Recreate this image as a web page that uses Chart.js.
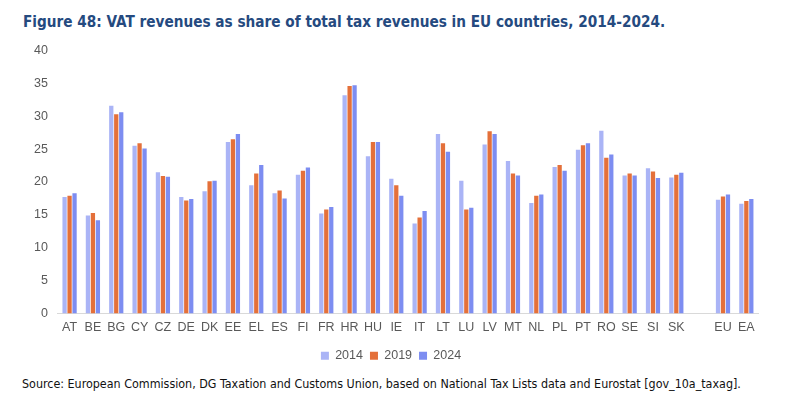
<!DOCTYPE html>
<html>
<head>
<meta charset="utf-8">
<script src="https://cdn.jsdelivr.net/npm/chart.js@4.4.1/dist/chart.umd.min.js"></script>
<style>
  body { margin: 0; background: #fff; width: 800px; height: 408px; overflow: hidden; position: relative; }
  #title { position: absolute; left: 23px; top: 13px; font-family: "DejaVu Sans Condensed", "Liberation Sans Narrow", sans-serif; font-weight: bold; font-size: 15.2px; color: #254A7F; white-space: nowrap; }
  #source { position: absolute; left: 22px; top: 376px; font-family: "DejaVu Sans Condensed", "Liberation Sans Narrow", sans-serif; font-size: 12.4px; color: #111; white-space: nowrap; }
  #wrap { position: absolute; left: 0; top: 33px; width: 800px; height: 339px; }
</style>
</head>
<body>
<div id="title">Figure 48: VAT revenues as share of total tax revenues in EU countries, 2014-2024.</div>
<div id="wrap"><canvas id="myChart"></canvas></div>
<div id="source">Source: European Commission, DG Taxation and Customs Union, based on National Tax Lists data and Eurostat [gov_10a_taxag].</div>
<script>
// countries (empty slot before EU/EA aggregates)
var countries = ["AT", "BE", "BG", "CY", "CZ", "DE", "DK", "EE", "EL", "ES", "FI", "FR", "HR", "HU",
    "IE", "IT", "LT", "LU", "LV", "MT", "NL", "PL", "PT", "RO", "SE", "SI", "SK", "", "EU", "EA"];

var y2014 = [17.7, 14.9, 31.6, 25.5, 21.5, 17.7, 18.6, 26.1, 19.5, 18.3, 21.1, 15.2, 33.2, 23.9,
    20.5, 13.7, 27.3, 20.2, 25.7, 23.2, 16.8, 22.3, 24.9, 27.8, 21.0, 22.1, 20.7, null, 17.3, 16.7];
var y2019 = [17.9, 15.3, 30.3, 25.9, 20.9, 17.2, 20.1, 26.5, 21.3, 18.7, 21.7, 15.8, 34.6, 26.1,
    19.5, 14.6, 25.9, 15.8, 27.7, 21.3, 17.9, 22.6, 25.6, 23.7, 21.3, 21.6, 21.1, null, 17.8, 17.1];
var y2024 = [18.3, 14.2, 30.6, 25.1, 20.8, 17.4, 20.2, 27.3, 22.6, 17.5, 22.2, 16.2, 34.7, 26.1,
    17.9, 15.6, 24.6, 16.1, 27.3, 21.0, 18.1, 21.7, 25.9, 24.2, 21.0, 20.6, 21.4, null, 18.1, 17.4];

var years = ["2014", "2019", "2024"];
var barColors = ["#AAB4F6", "#E4703A", "#7D8DF1"];
var yTicks = [0, 5, 10, 15, 20, 25, 30, 35, 40];

var series = [y2014, y2019, y2024];

new Chart("myChart", {
    type: "bar",
    data: {
        labels: countries,
        datasets: series.map(function (vals, i) {
            return {
                label: years[i],
                data: vals,
                backgroundColor: barColors[i],
                categoryPercentage: 0.64,
                barPercentage: 0.86
            };
        })
    },
    options: {
        responsive: true,
        maintainAspectRatio: false,
        animation: false,
        layout: {padding: {left: 24, right: 42, top: 2, bottom: 0}},
        plugins: {
            legend: {
                position: "bottom",
                labels: {
                    boxWidth: 8, boxHeight: 8, padding: 7,
                    color: "#595959",
                    font: {family: "Liberation Sans", size: 12.5}
                }
            },
            tooltip: {enabled: false}
        },
        scales: {
            x: {
                grid: {display: false, drawTicks: false},
                border: {color: "#D9D9D9", width: 1},
                ticks: {color: "#595959", font: {family: "Liberation Sans", size: 12.5}, padding: 7, maxRotation: 0, autoSkip: false}
            },
            y: {
                min: 0, max: 40,
                afterBuildTicks: function (axis) {
                    axis.ticks = yTicks.map(function (v) { return {value: v}; });
                },
                grid: {display: false, drawTicks: false},
                border: {display: false},
                ticks: {color: "#595959", font: {family: "Liberation Sans", size: 12.5}, padding: 10}
            }
        }
    }
});
</script>
</body>
</html>
